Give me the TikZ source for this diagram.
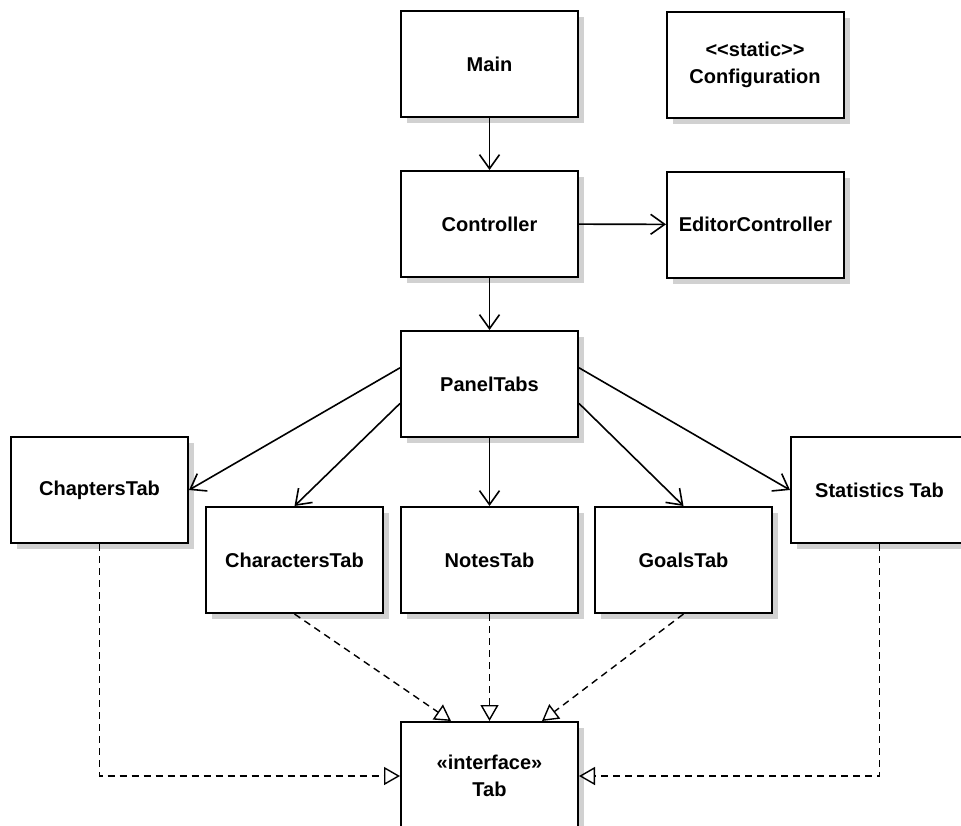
\documentclass[tikz,border=0pt]{standalone}
\usepackage{fontspec}
\setmainfont{Liberation Sans}
\usetikzlibrary{arrows.meta,shadows,calc}
\begin{document}
\begin{tikzpicture}[x=1pt,y=-1pt,
  cls/.style={draw=black, line width=2pt, fill=white,
    minimum width=177pt, minimum height=106pt, inner sep=0pt,
    font=\bfseries\fontsize{20}{27}\selectfont, align=center,
    drop shadow={shadow xshift=6pt, shadow yshift=-6pt, fill=black!18, opacity=1}},
  assoc/.style={line width=1.6pt,
    -{Straight Barb[length=14pt,width=20pt,line width=1.6pt]}},
  realize/.style={line width=1.4pt, dash pattern=on 7pt off 5pt,
    -{Triangle[open,length=16pt,width=18pt,line width=1.4pt]}}]

% page frame
\fill[white] (0,0) rectangle (961,825);
\useasboundingbox (0,0) rectangle (961,825);

% classes
\node[cls] (main)   at (489.5,64)   {Main};
\node[cls] (config) at (755,64.5)   {{<}{<}static{>}{>}\\Configuration};
\node[cls] (ctrl)   at (489.5,224)  {Controller};
\node[cls] (editor) at (755.5,224.5){EditorController};
\node[cls] (panel)  at (489.5,384)  {PanelTabs};
\node[cls] (chap)   at (99.5,490)   {ChaptersTab};
\node[cls] (stat)   at (879.5,490)  {Statistics Tab};
\node[cls] (chars)  at (294.5,560)  {CharactersTab};
\node[cls] (notes)  at (489.5,560)  {NotesTab};
\node[cls] (goals)  at (683.5,560)  {GoalsTab};
\node[cls, minimum height=108pt, anchor=north] (tab) at (489.5,721)
  {«interface»\\Tab};

% associations
\draw[assoc] (main) -- (ctrl);
\draw[assoc] (ctrl) -- (editor);
\draw[assoc] (ctrl) -- (panel);
\draw[assoc] ($(panel.north west)!0.35!(panel.south west)$) -- (chap.east);
\draw[assoc] ($(panel.north west)!0.68!(panel.south west)$) -- (chars.north);
\draw[assoc] (panel) -- (notes);
\draw[assoc] ($(panel.north east)!0.68!(panel.south east)$) -- (goals.north);
\draw[assoc] ($(panel.north east)!0.35!(panel.south east)$) -- (stat.west);

% realizations of the Tab interface
\coordinate (tabA) at ($(tab.north west)+(51,0)$);
\coordinate (tabC) at ($(tab.north west)+(142,0)$);
\draw[realize] (chap.south) |- (tab.west);
\draw[realize] (stat.south) |- (tab.east);
\draw[realize] (chars.south) -- (tabA);
\draw[realize] (notes.south) -- (tab.north);
\draw[realize] (goals.south) -- (tabC);
\end{tikzpicture}
\end{document}
